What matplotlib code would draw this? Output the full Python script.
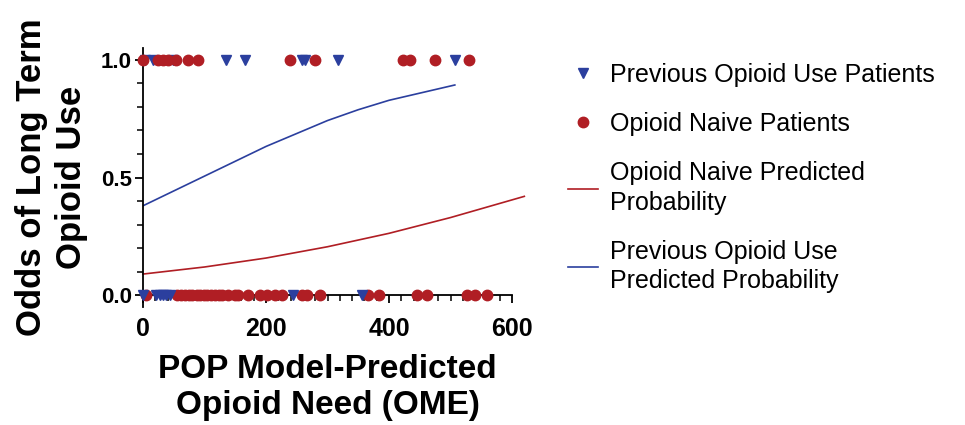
import numpy as np
import matplotlib.pyplot as plt
from matplotlib.ticker import MultipleLocator

plt.rcParams['font.family'] = ['Liberation Sans', 'DejaVu Sans']

red = '#B01E24'
blue = '#2B3F9E'

# patients who stayed on opioids (y = 1) and those who did not (y = 0)
naive_long_x = [0, 25, 32, 40, 54, 73, 89, 239, 280, 423, 434, 475, 530]
prev_long_x = [3, 16, 49, 135, 166, 258, 263, 317, 507]
naive_short_x = [5, 55, 62, 68, 75, 80, 87, 93, 99, 104, 110, 117, 123, 128, 138,
                 150, 154, 171, 190, 202, 215, 226, 258, 267, 288, 366, 384,
                 446, 462, 527, 540, 559]
prev_short_x = [0, 21, 27, 32, 38, 44, 244, 356]

# predicted probability curves
naive_curve_x = [0, 100, 200, 300, 400, 500, 620]
naive_curve_y = [0.09, 0.12, 0.158, 0.206, 0.263, 0.33, 0.42]
prev_curve_x = [0, 100, 200, 300, 350, 400, 507]
prev_curve_y = [0.38, 0.506, 0.632, 0.742, 0.788, 0.828, 0.893]

fig = plt.figure(figsize=(9.65, 4.25), dpi=100)
ax = fig.add_axes([0.1482, 0.2776, 0.3824, 0.6094])

ms = 7.5
ax.plot(prev_long_x, np.ones(len(prev_long_x)), 'v', color=blue, ms=ms,
        ls='none', clip_on=False, zorder=3, label='Previous Opioid Use Patients')
ax.plot(naive_long_x, np.ones(len(naive_long_x)), 'o', color=red, ms=ms,
        ls='none', clip_on=False, zorder=3, label='Opioid Naive Patients')
ax.plot(naive_short_x, np.zeros(len(naive_short_x)), 'o', color=red, ms=ms,
        ls='none', clip_on=False, zorder=3)
ax.plot(prev_short_x, np.zeros(len(prev_short_x)), 'v', color=blue, ms=ms,
        ls='none', clip_on=False, zorder=3)
ax.plot(naive_curve_x, naive_curve_y, color=red, lw=1.2, clip_on=False,
        label='Opioid Naive Predicted\nProbability')
ax.plot(prev_curve_x, prev_curve_y, color=blue, lw=1.2,
        label='Previous Opioid Use\nPredicted Probability')

ax.set_xlim(0, 600)
ax.set_ylim(-0.05, 1.05)
ax.spines['top'].set_visible(False)
ax.spines['right'].set_visible(False)
ax.spines['bottom'].set_position(('data', 0))
ax.spines['left'].set_position(('data', 0))
ax.spines['bottom'].set_bounds(0, 600)
for s in ('bottom', 'left'):
    ax.spines[s].set_linewidth(1.3)

ax.xaxis.set_major_locator(MultipleLocator(200))
ax.xaxis.set_minor_locator(MultipleLocator(20))
ax.yaxis.set_major_locator(MultipleLocator(0.5))
ax.yaxis.set_minor_locator(MultipleLocator(0.1))
ax.set_yticks([0, 0.5, 1.0])
ax.set_yticklabels(['0.0', '0.5', '1.0'])
ax.tick_params(axis='both', which='major', length=6, width=1.3, direction='out')
ax.tick_params(axis='both', which='minor', length=4, width=1.1, direction='out')
ax.tick_params(axis='x', labelsize=18, pad=10)
ax.tick_params(axis='y', labelsize=16, pad=2)
for lab in ax.get_xticklabels() + ax.get_yticklabels():
    lab.set_fontweight('bold')

ax.set_xlabel('POP Model-Predicted\nOpioid Need (OME)', fontsize=24,
              fontweight='bold', labelpad=9, linespacing=1.2)
ax.set_ylabel('Odds of Long Term\nOpioid Use', fontsize=25,
              fontweight='bold', labelpad=9, linespacing=1.3)

leg = fig.legend(loc='upper left', bbox_to_anchor=(558 / 965, 1 - 53 / 425),
                 frameon=False, fontsize=18, handlelength=1.2, handletextpad=0.5,
                 labelspacing=1.0, borderaxespad=0)
for t in leg.get_texts():
    t.set_linespacing(1.3)

fig.savefig('out.png', dpi=100)
